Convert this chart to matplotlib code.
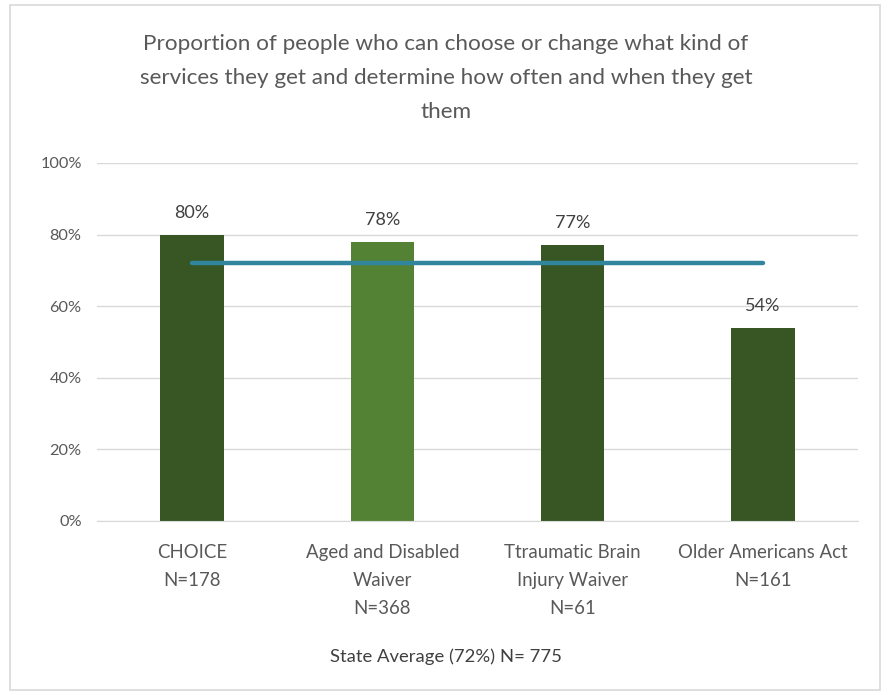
import matplotlib
matplotlib.use("Agg")
import matplotlib.pyplot as plt
from matplotlib.patches import Rectangle

categories = ["CHOICE\nN=178", "Aged and Disabled\nWaiver\nN=368",
              "Ttraumatic Brain\nInjury Waiver\nN=61", "Older Americans Act\nN=161"]
values = [80, 78, 77, 54]
state_avg = 72
bar_colors = ["#375623", "#548235", "#375623", "#375623"]
title = ("Proportion of people who can choose or change what kind of\n"
         "services they get and determine how often and when they get\nthem")
xlabel = "State Average (72%) N= 775"
yticks = [0, 20, 40, 60, 80, 100]

plt.rcParams['font.family'] = ['Lato', 'DejaVu Sans']

fig = plt.figure(figsize=(8.9, 6.95), dpi=100)
fig.patches.append(Rectangle((10/890, 5/695), 870/890, 685/695, transform=fig.transFigure,
                             fill=False, edgecolor="#D9D9D9", linewidth=1.2))
ax = fig.add_axes([97/890, 174/695, 761/890, 358/695])

x = list(range(len(categories)))
ax.bar(x, values, width=0.335, color=bar_colors, zorder=2)
ax.plot([x[0], x[-1]], [state_avg, state_avg], color="#31859C", linewidth=3.2,
        solid_capstyle="round", zorder=3)
for xi, v in zip(x, values):
    ax.annotate(f"{v}%", (xi, v), xytext=(0, 10), textcoords="offset points",
                ha="center", va="bottom", fontsize=13, color="#404040")

ax.set_xlim(-0.5, 3.5)
ax.set_ylim(0, 100)
ax.set_yticks(yticks)
ax.set_yticklabels([f"{t}%" for t in yticks], fontsize=11.8, color="#595959")
ax.set_xticks(x)
ax.set_xticklabels(categories, fontsize=13.4, color="#595959", linespacing=1.8, va="top")
ax.tick_params(axis="both", length=0)
ax.tick_params(axis="x", pad=16.5)
ax.tick_params(axis="y", pad=11)
ax.grid(axis="y", color="#D9D9D9", linewidth=1, zorder=0)
for s in ["top", "right", "left"]:
    ax.spines[s].set_visible(False)
ax.spines["bottom"].set_color("#D9D9D9")
ax.set_axisbelow(True)

fig.text(446/890, 1 - 78/695, title, ha="center", va="center", fontsize=16.2,
         color="#595959", linespacing=1.9)
fig.text(446/890, 1 - 657/695, xlabel, ha="center", va="center", fontsize=13.3,
         color="#404040")

fig.savefig("out.png", dpi=100, facecolor="white")
